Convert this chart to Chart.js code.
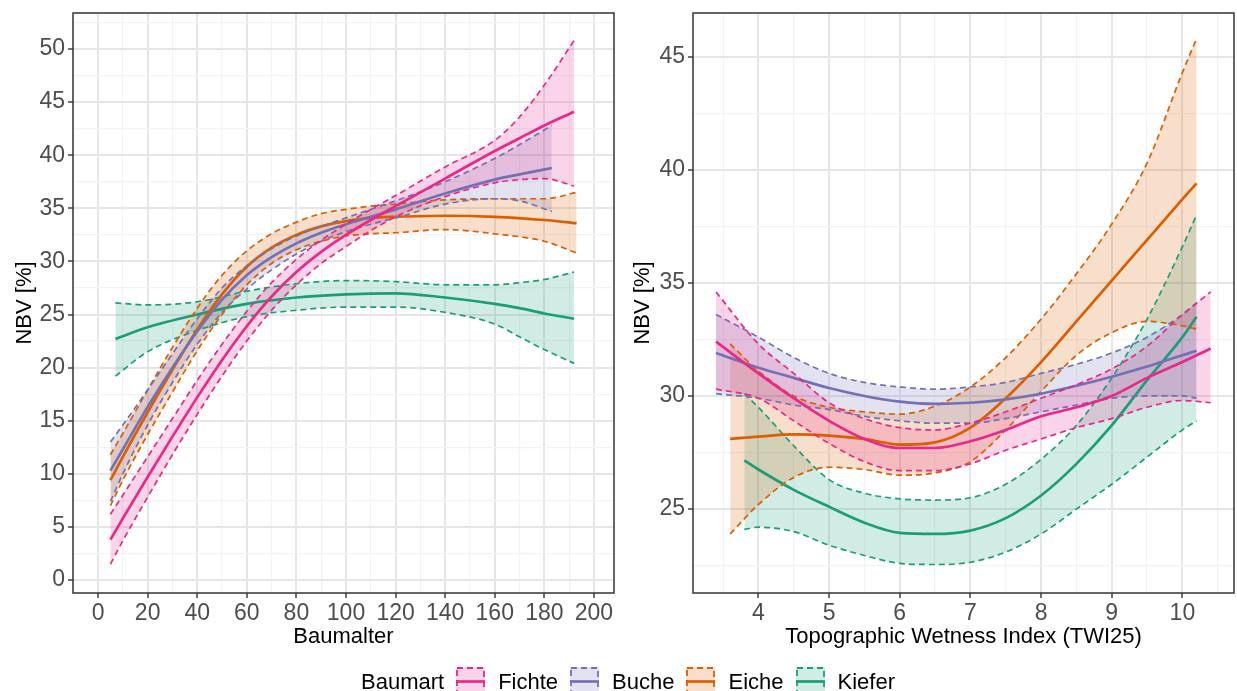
<!DOCTYPE html>
<html>
<head>
<meta charset="utf-8">
<title>NBV nach Baumalter und TWI</title>
<script src="https://cdn.jsdelivr.net/npm/chart.js@4.4.1/dist/chart.umd.min.js"></script>
<style>
  html, body { margin: 0; padding: 0; background: #fff; overflow: hidden; }
  body { width: 1237px; height: 691px; position: relative; font-family: "Liberation Sans", Arial, sans-serif; }
  canvas.panel { position: absolute; top: 0; }
  #agePanel { left: 0; }
  #twiPanel { left: 620px; }
  #legend { position: absolute; left: 361px; top: 667px; height: 29px; display: flex; align-items: center; font-size: 22px; color: #000; z-index: 2; white-space: nowrap; }
  #legend span { margin-right: 12px; }
  #legend canvas { margin-right: 13px; }
</style>
</head>
<body>
<canvas id="agePanel" class="panel" width="620" height="691"></canvas>
<canvas id="twiPanel" class="panel" width="617" height="691"></canvas>
<div id="legend"></div>
<script>
// ---- Panel 1: NBV ueber Baumalter ----
const ageFichteX     = [5, 10, 20, 30, 40, 50, 60, 70, 80, 90, 100, 110, 120, 140, 160, 170, 180, 192];
const ageFichteFit   = [3.8, 5.8, 9.7, 13.5, 17.2, 20.7, 23.9, 26.7, 29.0, 30.9, 32.5, 33.9, 35.2, 37.8, 40.4, 41.6, 42.8, 44.1];
const ageFichteUpper = [6.2, 8.0, 11.6, 15.2, 18.8, 22.2, 25.3, 28.0, 30.2, 32.0, 33.5, 34.9, 36.2, 38.9, 41.4, 43.6, 46.6, 50.8];
const ageFichteLower = [1.5, 3.7, 7.8, 11.8, 15.6, 19.2, 22.5, 25.4, 27.8, 29.8, 31.4, 32.9, 34.2, 36.1, 37.4, 37.7, 37.8, 37.1];

const ageBucheX     = [5, 10, 20, 30, 40, 50, 60, 70, 80, 90, 100, 110, 120, 140, 160, 170, 183];
const ageBucheFit   = [10.3, 12.3, 16.3, 20.0, 23.4, 26.4, 28.7, 30.4, 31.7, 32.7, 33.5, 34.2, 34.9, 36.4, 37.7, 38.2, 38.8];
const ageBucheUpper = [13.0, 14.6, 17.9, 21.3, 24.6, 27.5, 29.6, 31.2, 32.4, 33.3, 34.1, 34.9, 35.7, 37.5, 39.7, 41.0, 42.8];
const ageBucheLower = [7.4, 10.0, 14.6, 18.6, 22.2, 25.2, 27.4, 29.2, 30.7, 31.9, 32.8, 33.5, 34.1, 35.4, 35.9, 35.7, 34.7];

const ageEicheX     = [5, 10, 20, 30, 40, 50, 60, 70, 80, 90, 100, 110, 120, 140, 160, 180, 193];
const ageEicheFit   = [9.4, 11.6, 15.8, 19.8, 23.6, 26.9, 29.5, 31.3, 32.5, 33.3, 33.8, 34.1, 34.2, 34.3, 34.2, 33.9, 33.6];
const ageEicheUpper = [11.8, 13.8, 17.9, 21.9, 25.6, 28.7, 31.0, 32.6, 33.7, 34.5, 34.9, 35.2, 35.4, 35.8, 35.9, 35.9, 36.5];
const ageEicheLower = [7.0, 9.4, 13.7, 17.7, 21.6, 25.0, 27.8, 29.8, 31.1, 31.9, 32.4, 32.6, 32.7, 33.0, 32.6, 31.9, 30.8];

const ageKieferX     = [7, 20, 40, 60, 80, 100, 120, 140, 160, 170, 180, 192];
const ageKieferFit   = [22.7, 23.8, 25.0, 26.0, 26.6, 26.9, 27.0, 26.6, 26.0, 25.6, 25.1, 24.6];
const ageKieferUpper = [26.1, 25.9, 26.2, 27.2, 27.9, 28.2, 28.1, 27.8, 27.8, 28.0, 28.3, 29.0];
const ageKieferLower = [19.2, 21.5, 23.5, 24.8, 25.4, 25.7, 25.7, 25.2, 24.1, 22.9, 21.7, 20.4];

const ageMajorX = [0, 20, 40, 60, 80, 100, 120, 140, 160, 180, 200];
const ageMinorX = [10, 30, 50, 70, 90, 110, 130, 150, 170, 190];
const ageMajorY = [0, 5, 10, 15, 20, 25, 30, 35, 40, 45, 50];
const ageMinorY = [2.5, 7.5, 12.5, 17.5, 22.5, 27.5, 32.5, 37.5, 42.5, 47.5, 52.5];

// ---- Panel 2: NBV ueber TWI25 ----
const twiFichteX     = [3.4, 4, 4.5, 5, 5.5, 6, 6.5, 7, 7.5, 8, 8.5, 9, 9.5, 10, 10.4];
const twiFichteFit   = [32.4, 31.0, 29.9, 28.9, 28.1, 27.7, 27.7, 28.0, 28.5, 29.1, 29.5, 30.0, 30.8, 31.5, 32.1];
const twiFichteUpper = [34.6, 32.3, 31.0, 29.7, 29.0, 28.6, 28.5, 28.8, 29.3, 29.9, 30.5, 31.2, 32.2, 33.6, 34.6];
const twiFichteLower = [30.3, 29.9, 28.9, 27.9, 27.1, 26.7, 26.7, 27.0, 27.6, 28.1, 28.6, 29.0, 29.5, 29.8, 29.7];

const twiBucheX     = [3.4, 4, 4.5, 5, 5.5, 6, 6.5, 7, 7.5, 8, 8.5, 9, 9.5, 10, 10.2];
const twiBucheFit   = [31.9, 31.25, 30.8, 30.35, 30.0, 29.75, 29.65, 29.7, 29.85, 30.1, 30.45, 30.85, 31.3, 31.8, 32.0];
const twiBucheUpper = [33.6, 32.6, 31.7, 31.0, 30.6, 30.4, 30.3, 30.4, 30.6, 31.0, 31.4, 31.9, 32.6, 33.6, 34.1];
const twiBucheLower = [30.1, 29.9, 29.6, 29.4, 29.1, 28.9, 28.8, 28.8, 29.0, 29.3, 29.6, 29.9, 30.0, 30.0, 29.9];

const twiEicheX     = [3.6, 4, 4.5, 5, 5.5, 6, 6.5, 7, 7.5, 8, 8.5, 9, 9.5, 10, 10.2];
const twiEicheFit   = [28.1, 28.2, 28.3, 28.25, 28.1, 27.85, 27.95, 28.6, 29.9, 31.5, 33.3, 35.1, 36.9, 38.7, 39.4];
const twiEicheUpper = [32.3, 31.1, 30.0, 29.5, 29.3, 29.2, 29.55, 30.4, 31.7, 33.4, 35.4, 37.6, 40.3, 44.3, 45.8];
const twiEicheLower = [23.9, 25.2, 26.4, 26.85, 26.75, 26.5, 26.6, 27.1, 28.5, 30.2, 31.8, 32.8, 33.3, 33.1, 32.95];

const twiKieferX     = [3.8, 4, 4.5, 5, 5.5, 6, 6.5, 7, 7.5, 8, 8.5, 9, 9.5, 10, 10.2];
const twiKieferFit   = [27.15, 26.75, 25.85, 25.1, 24.4, 23.95, 23.9, 24.05, 24.6, 25.6, 27.0, 28.7, 30.7, 32.6, 33.5];
const twiKieferUpper = [30.1, 29.5, 27.8, 26.3, 25.7, 25.45, 25.4, 25.5, 26.1, 27.2, 28.7, 30.8, 33.4, 36.6, 38.0];
const twiKieferLower = [24.1, 24.2, 24.0, 23.4, 22.95, 22.6, 22.55, 22.65, 23.1, 23.9, 25.0, 26.1, 27.3, 28.5, 28.9];

const twiMajorX = [4, 5, 6, 7, 8, 9, 10];
const twiMinorX = [3.5, 4.5, 5.5, 6.5, 7.5, 8.5, 9.5, 10.5];
const twiMajorY = [25, 30, 35, 40, 45];
const twiMinorY = [22.5, 27.5, 32.5, 37.5, 42.5];

const species = ['Fichte', 'Buche', 'Eiche', 'Kiefer'];
const speciesColors = ['#E7298A', '#7570B3', '#D95F02', '#1B9E77'];
const bandAlpha = 0.2;

const FONT = '"Liberation Sans", Arial, sans-serif';

function hexToRgba(hex, a) {
  const n = parseInt(hex.slice(1), 16);
  return `rgba(${(n >> 16) & 255}, ${(n >> 8) & 255}, ${n & 255}, ${a})`;
}

function pts(xs, ys) {
  return xs.map((x, i) => ({ x: x, y: ys[i] }));
}

// Konfidenzband (oben/unten gestrichelt) + Modelllinie
function bandDatasets(label, color, xs, fit, upper, lower) {
  const common = { pointRadius: 0, cubicInterpolationMode: 'monotone', borderColor: color };
  return [
    { ...common, label: label + ' oben', data: pts(xs, upper), borderWidth: 1.7, borderDash: [6, 4],
      backgroundColor: hexToRgba(color, bandAlpha), fill: '+1' },
    { ...common, label: label + ' unten', data: pts(xs, lower), borderWidth: 1.7, borderDash: [6, 4], fill: false },
    { ...common, label: label, data: pts(xs, fit), borderWidth: 2.7, fill: false }
  ];
}

const panelBorder = {
  id: 'panelBorder',
  afterDraw(chart) {
    const { ctx, chartArea: a } = chart;
    ctx.save();
    ctx.strokeStyle = '#333333';
    ctx.lineWidth = 1.5;
    ctx.strokeRect(a.left, a.top, a.right - a.left, a.bottom - a.top);
    ctx.restore();
  }
};

function axis(min, max, major, minor, titleText, isX, titlePad) {
  const all = major.concat(minor).sort((a, b) => a - b);
  return {
    type: 'linear',
    min: min,
    max: max,
    afterBuildTicks: s => { s.ticks = all.map(v => ({ value: v })); },
    afterFit: s => {
      if (isX) { s.height = 98; s.paddingLeft = 0; s.paddingRight = 0; }
      else { s.width = 73; s.paddingTop = 0; s.paddingBottom = 0; }
    },
    ticks: {
      autoSkip: false,
      maxRotation: 0,
      minRotation: 0,
      padding: isX ? 2 : 3,
      color: '#4D4D4D',
      font: { family: FONT, size: 23 },
      callback: v => (major.includes(v) ? String(v) : '')
    },
    grid: {
      color: c => (c.tick && major.includes(c.tick.value) ? '#E6E6E6' : '#F3F3F3'),
      lineWidth: c => (c.tick && major.includes(c.tick.value) ? 2 : 1.2),
      tickColor: c => (c.tick && major.includes(c.tick.value) ? '#333333' : 'rgba(0,0,0,0)'),
      tickLength: 5,
      tickWidth: 1.4
    },
    border: { display: false },
    title: {
      display: true,
      text: titleText,
      color: '#000',
      font: { family: FONT, size: 22 },
      padding: isX ? { top: 0, bottom: 41 } : { top: titlePad, bottom: 0 }
    }
  };
}

function makePanel(id, datasets, xAxis, yAxis, padRight) {
  return new Chart(document.getElementById(id), {
    type: 'line',
    data: { datasets: datasets },
    options: {
      responsive: false,
      animation: false,
      devicePixelRatio: 1,
      layout: { padding: { left: 0, top: 13, right: padRight, bottom: 0 } },
      plugins: {
        legend: { display: false },
        tooltip: { enabled: false },
        filler: { drawTime: 'beforeDatasetsDraw' }
      },
      scales: { x: xAxis, y: yAxis }
    },
    plugins: [panelBorder]
  });
}

const ageSets = [].concat(
  bandDatasets('Fichte', speciesColors[0], ageFichteX, ageFichteFit, ageFichteUpper, ageFichteLower),
  bandDatasets('Buche', speciesColors[1], ageBucheX, ageBucheFit, ageBucheUpper, ageBucheLower),
  bandDatasets('Eiche', speciesColors[2], ageEicheX, ageEicheFit, ageEicheUpper, ageEicheLower),
  bandDatasets('Kiefer', speciesColors[3], ageKieferX, ageKieferFit, ageKieferUpper, ageKieferLower)
);

const twiSets = [].concat(
  bandDatasets('Fichte', speciesColors[0], twiFichteX, twiFichteFit, twiFichteUpper, twiFichteLower),
  bandDatasets('Buche', speciesColors[1], twiBucheX, twiBucheFit, twiBucheUpper, twiBucheLower),
  bandDatasets('Eiche', speciesColors[2], twiEicheX, twiEicheFit, twiEicheUpper, twiEicheLower),
  bandDatasets('Kiefer', speciesColors[3], twiKieferX, twiKieferFit, twiKieferUpper, twiKieferLower)
);

makePanel('agePanel', ageSets,
  axis(-10.1, 208.1, ageMajorX, ageMinorX, 'Baumalter', true),
  axis(-1.22, 53.39, ageMajorY, ageMinorY, 'NBV [%]', false, 12), 6);

makePanel('twiPanel', twiSets,
  axis(3.074, 10.73, twiMajorX, twiMinorX, 'Topographic Wetness Index (TWI25)', true),
  axis(21.29, 46.93, twiMajorY, twiMinorY, 'NBV [%]', false, 10), 3);

// ---- Legende ----
const legend = document.getElementById('legend');
const legendTitle = document.createElement('span');
legendTitle.textContent = 'Baumart';
legend.appendChild(legendTitle);
species.forEach((name, i) => {
  const c = document.createElement('canvas');
  c.width = 29; c.height = 29;
  const g = c.getContext('2d');
  g.fillStyle = hexToRgba(speciesColors[i], bandAlpha);
  g.fillRect(0, 0, 29, 29);
  g.strokeStyle = speciesColors[i];
  g.lineWidth = 1.8;
  g.setLineDash([6, 4]);
  g.strokeRect(1, 1, 27, 27);
  g.setLineDash([]);
  g.lineWidth = 2.7;
  g.beginPath(); g.moveTo(0, 14.5); g.lineTo(29, 14.5); g.stroke();
  legend.appendChild(c);
  const t = document.createElement('span');
  t.textContent = name;
  legend.appendChild(t);
});
</script>
</body>
</html>
